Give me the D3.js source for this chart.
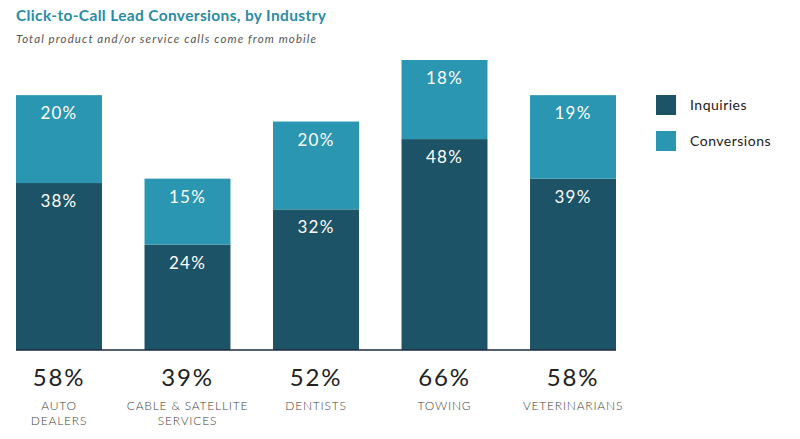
<!DOCTYPE html>
<html><head><meta charset="utf-8">
<script src="https://cdn.jsdelivr.net/npm/d3@7"></script>
<style>body{margin:0;background:#fff;font-family:Lato,"Noto Sans",sans-serif;}</style>
</head><body><svg id="c" width="800" height="439"></svg>
<script>
const categories = ["AUTO|DEALERS", "CABLE & SATELLITE|SERVICES", "DENTISTS", "TOWING", "VETERINARIANS"];
const inquiries = [38, 24, 32, 48, 39];
const conversions = [20, 15, 20, 18, 19];
const totals = [58, 39, 52, 66, 58];
const seriesNames = ["Inquiries", "Conversions"];
const colors = ["#1d5366", "#2b96b1"];

const svg = d3.select("#c");
const x = d3.scaleBand().domain(categories).range([16, 616]).paddingInner(0.331).paddingOuter(0);
const y = d3.scaleLinear().domain([0, 66]).range([350, 60]);

svg.append("text").attr("x", 16).attr("y", 21).attr("fill", "#2a8ca6")
  .attr("font-size", 15.5).attr("font-weight", 700).attr("letter-spacing", 0.35)
  .text("Click-to-Call Lead Conversions, by Industry");
svg.append("text").attr("x", 16).attr("y", 43).attr("fill", "#555")
  .attr("font-size", 11.5).attr("font-style", "italic").attr("letter-spacing", 1.1)
  .text("Total product and/or service calls come from mobile");

const data = categories.map((c, i) => ({c, inq: inquiries[i], conv: conversions[i], tot: totals[i]}));
const stack = d3.stack().keys(["inq", "conv"])(data);

stack.forEach((layer, li) => {
  const g = svg.append("g");
  g.selectAll("rect").data(layer).join("rect")
    .attr("x", d => x(d.data.c)).attr("width", x.bandwidth())
    .attr("y", d => y(d[1])).attr("height", d => y(d[0]) - y(d[1]))
    .attr("fill", colors[li]);
  g.selectAll("text").data(layer).join("text")
    .attr("x", d => x(d.data.c) + x.bandwidth() / 2).attr("y", d => y(d[1]) + 24)
    .attr("text-anchor", "middle").attr("fill", "#fff").attr("font-size", 17)
    .attr("letter-spacing", 1.2)
    .text(d => (d[1] - d[0]) + "%");
});

svg.append("line").attr("x1", 16).attr("x2", 616).attr("y1", y(0)).attr("y2", y(0))
  .attr("stroke", "#1b2a40").attr("stroke-width", 1.5);

svg.selectAll(".tot").data(data).join("text")
  .attr("x", d => x(d.c) + x.bandwidth() / 2).attr("y", 386)
  .attr("text-anchor", "middle").attr("fill", "#222").attr("font-size", 24)
  .attr("letter-spacing", 1.8).text(d => d.tot + "%");

const catG = svg.selectAll(".cat").data(data).join("text")
  .attr("x", d => x(d.c) + x.bandwidth() / 2).attr("y", 410)
  .attr("text-anchor", "middle").attr("fill", "#444").attr("font-size", 12)
  .attr("font-weight", 300).attr("letter-spacing", 0.8);
catG.selectAll("tspan").data(d => d.c.split("|").map(t => ({t, cx: x(d.c) + x.bandwidth() / 2})))
  .join("tspan").attr("x", d => d.cx).attr("dy", (d, i) => i ? 15 : 0).text(d => d.t);

const leg = svg.selectAll(".leg").data(seriesNames).join("g")
  .attr("transform", (d, i) => `translate(656,${95 + i * 36})`);
leg.append("rect").attr("width", 20).attr("height", 20).attr("fill", (d, i) => colors[i]);
leg.append("text").attr("x", 34).attr("y", 15).attr("fill", "#222").attr("font-size", 14)
  .attr("letter-spacing", 0.5).text(d => d);
</script></body></html>
